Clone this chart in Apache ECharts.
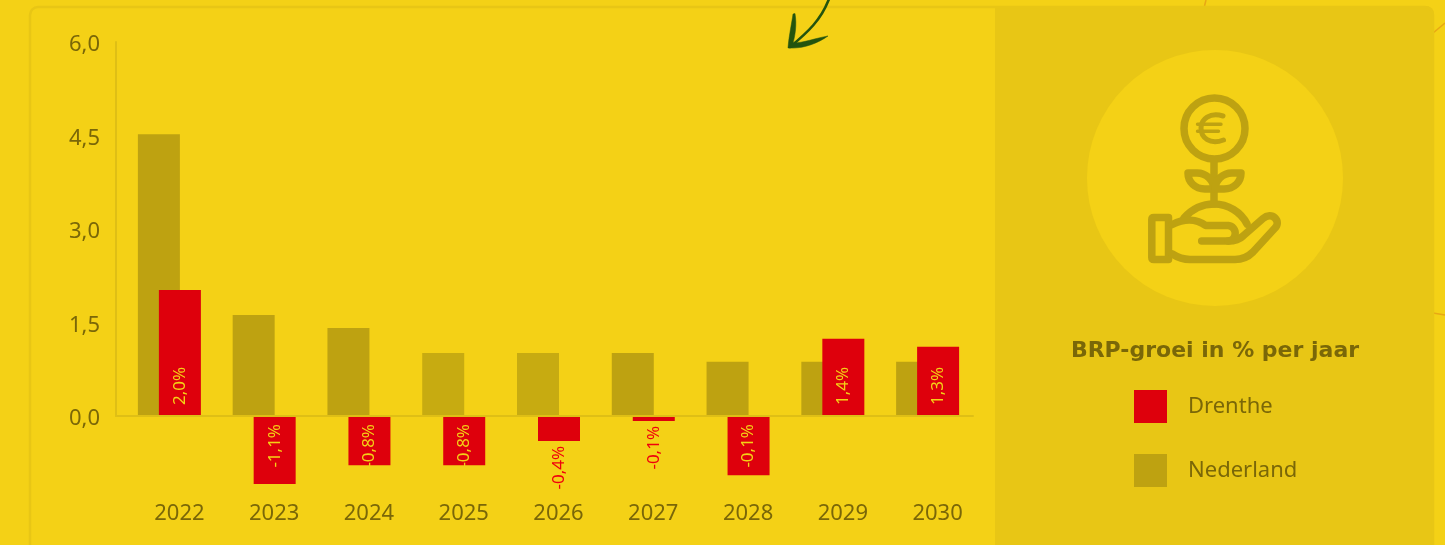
<!DOCTYPE html>
<html>
<head>
<meta charset="utf-8">
<style>html,body{margin:0;padding:0;background:#F4D116;overflow:hidden}#c{width:1445px;height:545px}</style>
<script src="https://cdn.jsdelivr.net/npm/echarts@6/dist/echarts.min.js"></script>
</head>
<body>
<div id="c"></div>
<script>
const categories = ['2022','2023','2024','2025','2026','2027','2028','2029','2030'];
const nederland = [4.52, 1.62, 1.41, 1.01, 1.01, 1.01, 0.87, 0.87, 0.87];
const drenthe = [2.02, -1.09, -0.79, -0.79, -0.40, -0.08, -0.95, 1.24, 1.11];
const drentheLabels = ['2,0%','-1,1%','-0,8%','-0,8%','-0,4%','-0,1%','-0,1%','1,4%','1,3%'];
const lighterYears = ['2025','2026'];
const outsideYears = ['2026','2027'];

const PAGE='#F4D116', PANEL='#E8C615', RED='#DE000C', OLIVE='#BEA211', OLIVE2='#C7AB11', TXT='#7A6708', FONT='"Noto Sans", sans-serif';

const shapes = {
  iconSleeve:'M1154 217.5 H1168.5 V259.5 H1154 Q1151.8 259.5 1151.8 257.5 V219.5 Q1151.8 217.5 1154 217.5 Z',
  iconThumb:'M1172.3 224.5 C1185 218 1197 219 1205.7 225.5 H1228.3 A7.8 7.8 0 0 1 1228.3 241 H1201.7',
  iconPalm:'M1228.3 241 C1234 241 1239 240 1243 236 L1263 218.5 C1267 215 1272 215 1275 218 C1278 221 1278 225 1275 228 L1253 252 C1248 257 1241 259.5 1235 259.5 H1190 C1183 259.5 1177 257 1172.3 254',
  iconDome:'M1184 218 C1192 209 1203 204 1214 204 C1228 204 1241 212 1247 224',
  iconStem:'M1214 162 V204',
  iconLeafL:'M1188 173 H1197 C1206 173 1214 180 1214 189 H1205 C1195 189 1188 182 1188 173 Z',
  iconLeafR:'M1241 173 H1232 C1223 173 1215 180 1215 189 H1224 C1234 189 1241 182 1241 173 Z',
  iconEuro:'M1223 116 C1210 112 1201 119 1201 128 C1201 138 1210 145 1223.5 140',
  iconEuroBars:'M1197.5 124.3 H1221 M1197.5 131.3 H1218.5',
  arrowShaft:'M829 -1 C821 20 808 32 790 47',
  arrowHead:'M795 13.5 C797 25 795 36 793 43 C803 43 816 38 828 36 C818 43 804 49 788 48 C789 35 792 22 793 14 Z'
};
Object.keys(shapes).forEach(k => echarts.graphic.registerShape(k, echarts.graphic.extendPath(shapes[k])));
const iconStyle = {stroke:OLIVE, lineWidth:7.5, fill:'none', lineCap:'round', lineJoin:'round'};
const icon = (type, extra) => ({type, silent:true, z:-5, shape:{}, style:Object.assign({}, iconStyle, extra||{})});

const chart = echarts.init(document.getElementById('c'));
chart.setOption({
  animation:false,
  backgroundColor:PAGE,
  textStyle:{fontFamily:FONT},
  title:{
    text:'BRP-groei in % per jaar', left:1210, top:335, textAlign:'center',
    textStyle:{fontFamily:'"DejaVu Sans", sans-serif', fontSize:22, fontWeight:'bold', color:TXT}
  },
  legend:{
    left:1129, top:385, orient:'vertical', itemWidth:33, itemHeight:33, itemGap:31,
    icon:'rect', selectedMode:false,
    data:[
      {name:'Drenthe', itemStyle:{color:RED}},
      {name:'Nederland', itemStyle:{color:OLIVE}}
    ],
    textStyle:{fontFamily:FONT, fontSize:22, color:TXT, padding:[2,0,0,16]}
  },
  grid:[
    {left:122, width:853, top:42, height:448.8},
    {left:116, width:857, top:42, height:374}
  ],
  xAxis:[
    {type:'category', gridIndex:0, data:categories, position:'bottom',
     axisLine:{show:false}, axisTick:{show:false}, splitLine:{show:false},
     axisLabel:{fontFamily:FONT, fontSize:22, color:TXT, margin:12, padding:[0,0,0,20], interval:0}},
    {type:'value', gridIndex:1, min:0, max:1, z:5,
     axisLine:{show:true, onZero:false, lineStyle:{color:'#DFBF15', width:2}},
     axisTick:{show:false}, axisLabel:{show:false}, splitLine:{show:false}}
  ],
  yAxis:[
    {type:'value', gridIndex:0, min:-1.2, max:6, show:false},
    {type:'value', gridIndex:1, min:0, max:6, interval:1.5, z:5,
     axisLine:{show:true, lineStyle:{color:'#DFBF15', width:2}},
     axisTick:{show:false}, splitLine:{show:false},
     axisLabel:{fontFamily:FONT, fontSize:22, color:TXT, margin:16, verticalAlign:'top', lineHeight:6,
       formatter:v => v.toFixed(1).replace('.',',')}}
  ],
  series:[
    {name:'Nederland', type:'bar', xAxisIndex:0, yAxisIndex:0, barWidth:42, barGap:'-50%',
     itemStyle:{color:p => lighterYears.includes(p.name) ? OLIVE2 : OLIVE},
     data:nederland},
    {name:'Drenthe', type:'bar', xAxisIndex:0, yAxisIndex:0, barWidth:42, barGap:'-50%',
     itemStyle:{color:RED},
     data:drenthe.map((v,i) => {
       const out = outsideYears.includes(categories[i]);
       const pos = v > 0;
       return {
         value:v,
         label:{
           show:true, formatter:drentheLabels[i], rotate:90, fontFamily:FONT, fontSize:17,
           color: out ? '#F0000C' : PAGE,
           position: pos ? 'insideBottom' : (out ? 'bottom' : 'insideTop'),
           distance: pos ? 11 : (out ? 5 : 8),
           align: pos ? 'left' : 'right', verticalAlign:'middle'
         }
       };
     })}
  ],
  graphic:{elements:[
    {type:'rect', silent:true, z:-10, shape:{x:995,y:6,width:439,height:560,r:[0,8,0,0]}, style:{fill:PANEL}},
    {type:'rect', silent:true, z:-9, shape:{x:30,y:7,width:1403,height:560,r:8}, style:{fill:'none',stroke:PANEL,lineWidth:2.5}},
    {type:'circle', silent:true, z:-8, shape:{cx:1215,cy:178,r:128}, style:{fill:PAGE}},
    {type:'circle', silent:true, z:-5, shape:{cx:1214.5,cy:128.5,r:30.5}, style:{fill:'none',stroke:OLIVE,lineWidth:7.5}},
    icon('iconStem'), icon('iconDome'), icon('iconLeafL'), icon('iconLeafR'),
    icon('iconSleeve'), icon('iconThumb'), icon('iconPalm'),
    icon('iconEuro',{lineWidth:5}), icon('iconEuroBars',{lineWidth:3.4}),
    {type:'arrowShaft', silent:true, z:-4, shape:{}, style:{stroke:'#24540E',lineWidth:2.6,fill:'none',lineCap:'round'}},
    {type:'arrowHead', silent:true, z:-4, shape:{}, style:{fill:'#24540E',stroke:'#24540E',lineWidth:0.5}},
    {type:'line', silent:true, z:-11, shape:{x1:1206,y1:0,x2:1204.5,y2:6}, style:{stroke:'#E8A815',lineWidth:1.5}},
    {type:'line', silent:true, z:-11, shape:{x1:1433,y1:33,x2:1445,y2:23}, style:{stroke:'#E8A815',lineWidth:1.5}},
    {type:'line', silent:true, z:-11, shape:{x1:1433,y1:313,x2:1445,y2:315}, style:{stroke:'#E8A815',lineWidth:1.5}}
  ]}
});
</script>
</body>
</html>
